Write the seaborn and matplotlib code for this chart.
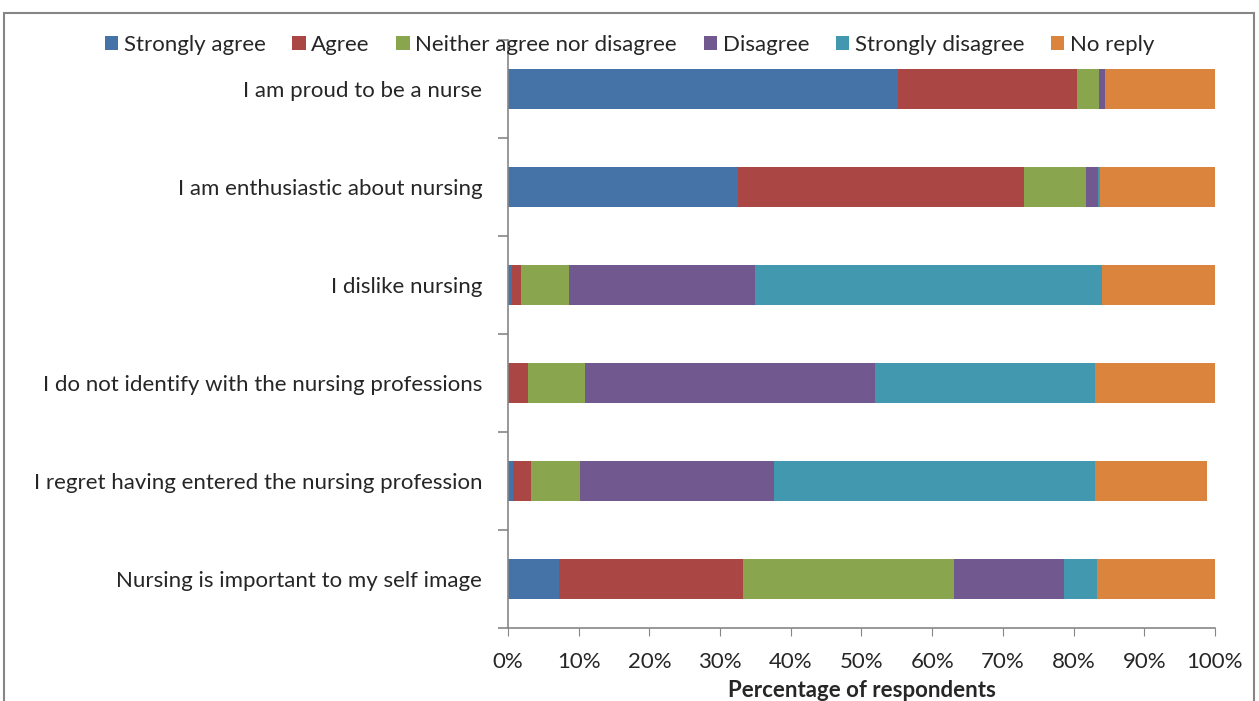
# Libraries
import matplotlib.pyplot as plt
import pandas as pd
import seaborn as sns
from matplotlib.patches import Patch, Rectangle
from matplotlib.ticker import FuncFormatter

# Stacked bar chart of nurses' attitudes towards their profession

# Data (percentages)
statements = ['I am proud to be a nurse',
              'I am enthusiastic about nursing',
              'I dislike nursing',
              'I do not identify with the nursing professions',
              'I regret having entered the nursing profession',
              'Nursing is important to my self image']
responses = ['Strongly agree', 'Agree', 'Neither agree nor disagree',
             'Disagree', 'Strongly disagree', 'No reply']
strongly_agree = [55.2, 32.6, 0.5, 0.0, 0.75, 7.25]
agree = [25.3, 40.4, 1.35, 2.8, 2.55, 25.95]
neither = [3.1, 8.7, 6.75, 8.1, 6.9, 29.9]
disagree = [0.9, 1.7, 26.3, 41.0, 27.4, 15.5]
strongly_disagree = [0.0, 0.3, 49.1, 31.2, 45.4, 4.7]
no_reply = [15.5, 16.3, 16.0, 16.9, 15.9, 16.7]
colors = ['#4572A7', '#AA4643', '#89A54E', '#71588F', '#4198AF', '#DB843D']

# Dataframe with cumulative sums so bars can be overlaid as a stack
df = pd.DataFrame({'statement': statements,
                   'Strongly agree': strongly_agree,
                   'Agree': agree,
                   'Neither agree nor disagree': neither,
                   'Disagree': disagree,
                   'Strongly disagree': strongly_disagree,
                   'No reply': no_reply})
cum = df[responses].cumsum(axis=1)
cum['statement'] = df['statement']

# Plot
sns.set_style('white')
plt.rcParams['font.family'] = ['Lato', 'DejaVu Sans']
fs = 16
fig = plt.figure(figsize=(12.59, 7.01), dpi=100)
ax = fig.add_axes([0.4035, 0.1041, 0.5615, 0.8389])

# draw the largest cumulative first, then smaller ones on top
for resp, col in reversed(list(zip(responses, colors))):
    sns.barplot(data=cum, x=resp, y='statement', order=statements,
                color=col, width=0.4, orient='h', ax=ax,
                linewidth=0, saturation=1)

ax.set_xlim(0, 100)
ax.set_ylim(len(statements) - 0.5, -0.5)
ax.set_xticks(range(0, 101, 10))
ax.xaxis.set_major_formatter(FuncFormatter(lambda v, p: f'{int(v)}%'))
ax.set_ylabel('')
ax.set_xlabel('Percentage of respondents', fontsize=fs, fontweight='bold', labelpad=6)

# spines and ticks
for s in ['top', 'right']:
    ax.spines[s].set_visible(False)
for s in ['left', 'bottom']:
    ax.spines[s].set_color('#868686')
    ax.spines[s].set_linewidth(1.2)
ax.tick_params(axis='x', bottom=True, direction='out', length=6, color='#868686',
               labelsize=fs, pad=11)
ax.tick_params(axis='y', which='major', left=False, labelsize=fs, pad=15)
ax.set_yticks([i + 0.5 for i in range(-1, len(statements))], minor=True)
ax.tick_params(axis='y', which='minor', left=True, direction='out', length=7,
               color='#868686', width=1.2)

# legend
handles = [Patch(facecolor=c, edgecolor='none', label=r) for r, c in zip(responses, colors)]
fig.legend(handles=handles, loc='center', bbox_to_anchor=(0.5, 1 - 45 / 701),
           ncol=6, frameon=False, fontsize=fs, handlelength=0.6, handleheight=0.6,
           handletextpad=0.25, columnspacing=1.2)

# outer chart border
fig.patches.append(Rectangle((0.003, -0.01), 0.993, 0.992, transform=fig.transFigure,
                             fill=False, edgecolor='#868686', linewidth=1.5))

plt.savefig('out.png', dpi=100)
